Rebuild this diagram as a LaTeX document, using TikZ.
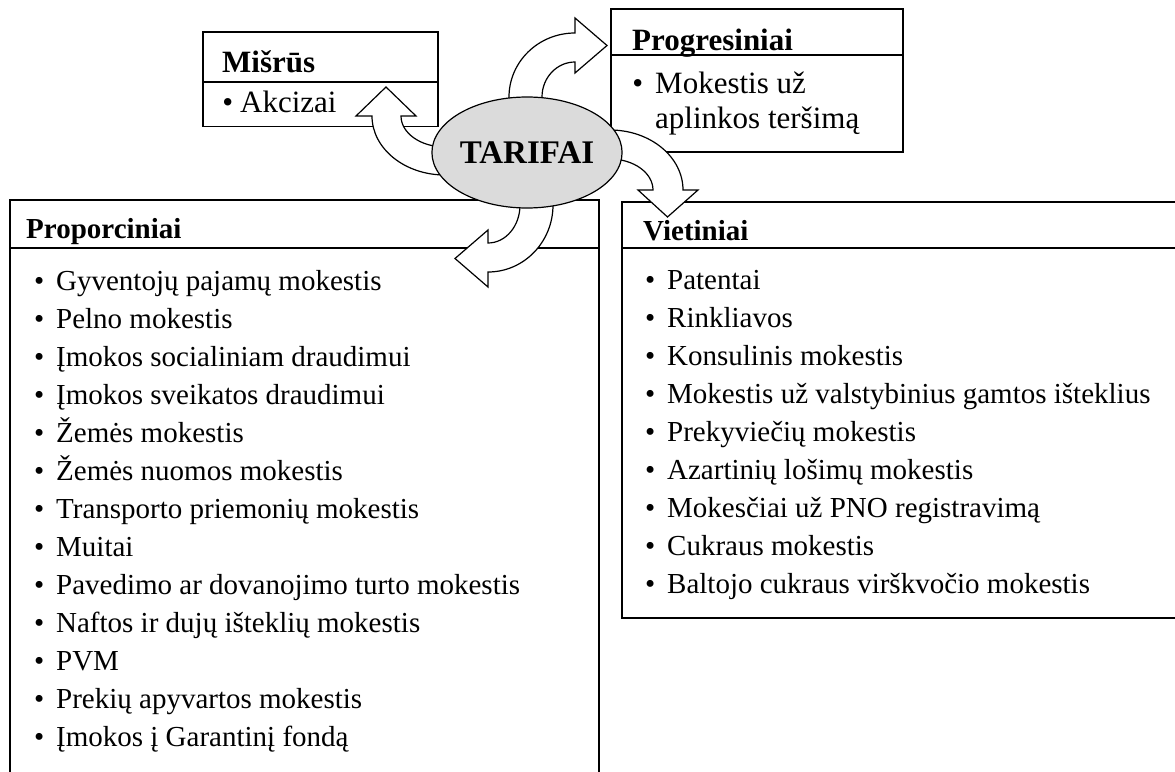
\documentclass[tikz,border=0pt]{standalone}
\usepackage{fontspec}
\setmainfont{Liberation Serif}
\usetikzlibrary{shapes.geometric}
% bullet placed to the left of an item text; #1 = gap between bullet and text
\newcommand\bul[1][12pt]{\llap{\textbullet\hspace{#1}}}
\begin{document}
\begin{tikzpicture}[x=1pt,y=-1pt,
  frame/.style={line width=1.2pt},
  headrule/.style={line width=2.6pt},
  head/.style={anchor=base west, inner sep=0pt, font=\fontsize{31}{31}\selectfont\bfseries},
  entry/.style={anchor=base west, inner sep=0pt, font=\fontsize{31}{31}\selectfont},
  listhead/.style={head, font=\fontsize{29}{29}\selectfont\bfseries},
  listentry/.style={entry, font=\fontsize{29}{29}\selectfont},
  blockarrow/.style={draw, fill=white, line width=1.2pt, line join=miter},
  hub/.style={ellipse, draw, line width=1.2pt, fill=black!14, inner sep=0pt,
    minimum width=174pt, minimum height=111pt,
    font=\fontsize{33}{33}\selectfont\bfseries}]
\useasboundingbox (0,0) rectangle (1175,771);

% --- category boxes ---------------------------------------------------
% Mišrūs
\draw[frame] (203,32) rectangle (438,126.5);
\draw[headrule] (203,82) -- (438,82);
\node[head]  (mis)  at (222,72)  {Mišrūs};
\node[entry] (mis1) at (240,112) {\bul[7pt]Akcizai};

% Progresiniai
\draw[frame] (611,9) rectangle (903,152);
\draw[headrule] (611,55) -- (903,55);
\node[head]  (pro)  at (632,50)  {Progresiniai};
\node[entry] (pro1) at (655,93)  {\bul Mokestis už};
\node[entry] (pro2) at (655,128) {aplinkos teršimą};

% Proporciniai (continues below the lower edge)
\draw[frame] (10,800) -- (10,200) -- (599,200) -- (599,800);
\draw[headrule] (10,248) -- (599,248);
\node[listhead] (prop) at (26,238) {Proporciniai};
\foreach \t [count=\i from 0] in {
    Gyventojų pajamų mokestis,
    Pelno mokestis,
    Įmokos socialiniam draudimui,
    Įmokos sveikatos draudimui,
    Žemės mokestis,
    Žemės nuomos mokestis,
    Transporto priemonių mokestis,
    Muitai,
    Pavedimo ar dovanojimo turto mokestis,
    Naftos ir dujų išteklių mokestis,
    PVM,
    Prekių apyvartos mokestis,
    Įmokos į Garantinį fondą}
  \node[listentry] (prop\i) at (56,{290+38.08*\i}) {\bul\t};

% Vietiniai (continues past the right edge)
\draw[frame] (1190,202) -- (622,202) -- (622,618) -- (1190,618);
\draw[headrule] (622,248) -- (1190,248);
\node[listhead] (viet) at (643,240) {Vietiniai};
\foreach \t [count=\i from 0] in {
    Patentai,
    Rinkliavos,
    Konsulinis mokestis,
    Mokestis už valstybinius gamtos išteklius,
    Prekyviečių mokestis,
    Azartinių lošimų mokestis,
    Mokesčiai už PNO registravimą,
    Cukraus mokestis,
    Baltojo cukraus virškvočio mokestis}
  \node[listentry] (viet\i) at (667,{289+38.08*\i}) {\bul\t};

% --- curved block arrows leaving the hub --------------------------------
% up and right, to Progresiniai
\draw[blockarrow] (509,115) -- (509,97)
  .. controls (509,61.7) and (538.5,33) .. (575,33)
  -- (575,18) -- (607,45.5) -- (575,73) -- (575,62)
  .. controls (556.8,62) and (542,77.7) .. (542,97)
  -- (542,115) -- cycle;
% left and up, to Mišrūs
\draw[blockarrow] (460,175) -- (445,175)
  .. controls (404.7,175) and (372,148.6) .. (372,116)
  -- (356,116) -- (386,87) -- (416,116) -- (401,116)
  .. controls (401,133.1) and (420.7,147) .. (445,147)
  -- (460,147) -- cycle;
% right and down, to Vietiniai
\draw[blockarrow] (595,130) -- (610,130)
  .. controls (650.3,130) and (683,156.9) .. (683,190)
  -- (698,190) -- (667.5,217) -- (638,190) -- (653,190)
  .. controls (653,172.9) and (633.7,159) .. (610,159)
  -- (595,159) -- cycle;
% down and left, to Proporciniai
\draw[blockarrow] (520,190) -- (520,205)
  .. controls (520,226) and (505.7,243) .. (488,243)
  -- (488,230) -- (455,258.5) -- (488,287) -- (488,272)
  .. controls (523.9,272) and (553,242) .. (553,205)
  -- (553,190) -- cycle;

% --- hub ----------------------------------------------------------------
\node[hub] (tarifai) at (527,152.5) {TARIFAI};
\end{tikzpicture}
\end{document}
